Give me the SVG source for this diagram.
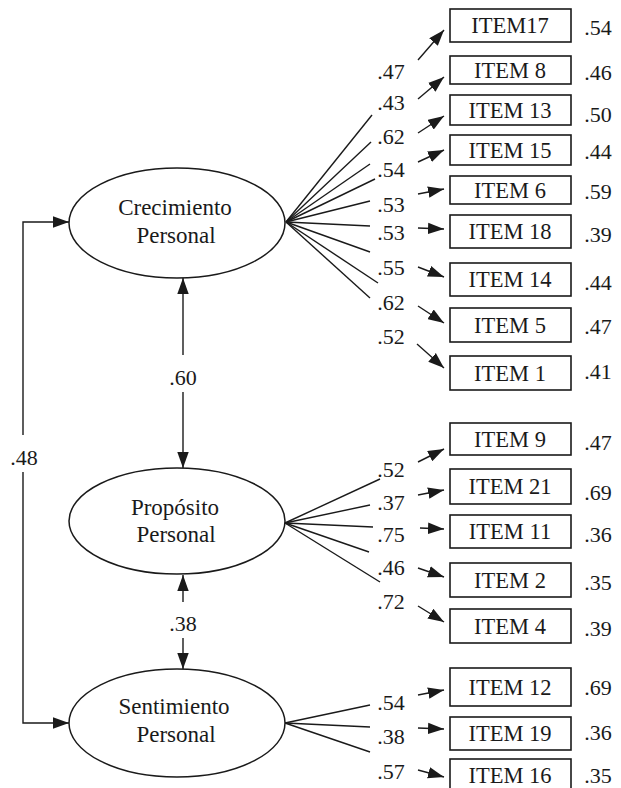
<svg xmlns="http://www.w3.org/2000/svg" width="621" height="788" viewBox="0 0 621 788">
<style>
  .bg { fill: #ffffff; }
  .ell { fill: #ffffff; stroke: #1a1a1a; stroke-width: 1.5; }
  .box { fill: #ffffff; stroke: #1a1a1a; stroke-width: 1.6; }
  .ln { fill: none; stroke: #1a1a1a; stroke-width: 1.4; }
  .t { fill: #1a1a1a; text-anchor: middle; }
  .lat { font-size: 23px; }
  .itm { font-size: 22.5px; }
  .num { font-size: 22px; }
</style>
<defs>
  <marker id="ah" markerUnits="userSpaceOnUse" markerWidth="16" markerHeight="12" viewBox="0 0 14 10" refX="14" refY="5" orient="auto">
    <path d="M0,0 L14,5 L0,10 Z" fill="#1a1a1a"/>
  </marker>
</defs>
<rect class="bg" x="0" y="0" width="621" height="788"/>

<g font-family="Liberation Serif, Tinos, DejaVu Serif, Times New Roman, serif">
<g id="connectors">
  <line class="ln" x1="286" y1="222" x2="372" y2="115"/>
  <line class="ln" x1="286" y1="222" x2="371" y2="142"/>
  <line class="ln" x1="286" y1="222" x2="370" y2="164"/>
  <line class="ln" x1="286" y1="222" x2="375" y2="179"/>
  <line class="ln" x1="286" y1="222" x2="370" y2="201"/>
  <line class="ln" x1="286" y1="222" x2="370" y2="226"/>
  <line class="ln" x1="286" y1="222" x2="370" y2="252"/>
  <line class="ln" x1="286" y1="222" x2="378" y2="283"/>
  <line class="ln" x1="286" y1="222" x2="370" y2="298"/>
  <line class="ln" x1="285" y1="523" x2="380" y2="479"/>
  <line class="ln" x1="285" y1="523" x2="370" y2="505"/>
  <line class="ln" x1="285" y1="523" x2="373" y2="527"/>
  <line class="ln" x1="285" y1="523" x2="369" y2="552"/>
  <line class="ln" x1="285" y1="523" x2="380" y2="582"/>
  <line class="ln" x1="285" y1="723" x2="370" y2="705"/>
  <line class="ln" x1="285" y1="723" x2="370" y2="727"/>
  <line class="ln" x1="285" y1="723" x2="370" y2="752"/>

  <line class="ln" x1="418" y1="60" x2="444" y2="30" marker-end="url(#ah)"/>
  <line class="ln" x1="418" y1="99" x2="444" y2="77" marker-end="url(#ah)"/>
  <line class="ln" x1="418" y1="133" x2="444" y2="116" marker-end="url(#ah)"/>
  <line class="ln" x1="418" y1="162" x2="444" y2="150" marker-end="url(#ah)"/>
  <line class="ln" x1="418" y1="194" x2="444" y2="189" marker-end="url(#ah)"/>
  <line class="ln" x1="418" y1="228" x2="444" y2="229" marker-end="url(#ah)"/>
  <line class="ln" x1="418" y1="267" x2="444" y2="277" marker-end="url(#ah)"/>
  <line class="ln" x1="418" y1="306" x2="444" y2="323" marker-end="url(#ah)"/>
  <line class="ln" x1="417" y1="344" x2="444" y2="368" marker-end="url(#ah)"/>
  <line class="ln" x1="418" y1="462" x2="444" y2="449" marker-end="url(#ah)"/>
  <line class="ln" x1="418" y1="495" x2="444" y2="490" marker-end="url(#ah)"/>
  <line class="ln" x1="420" y1="528" x2="444" y2="529" marker-end="url(#ah)"/>
  <line class="ln" x1="418" y1="568" x2="444" y2="577" marker-end="url(#ah)"/>
  <line class="ln" x1="418" y1="606" x2="444" y2="622" marker-end="url(#ah)"/>
  <line class="ln" x1="418" y1="695" x2="444" y2="690" marker-end="url(#ah)"/>
  <line class="ln" x1="418" y1="728" x2="444" y2="729" marker-end="url(#ah)"/>
  <line class="ln" x1="418" y1="770" x2="444" y2="777" marker-end="url(#ah)"/>

  <line class="ln" x1="183" y1="355" x2="183" y2="278" marker-end="url(#ah)"/>
  <line class="ln" x1="183" y1="392" x2="183" y2="468" marker-end="url(#ah)"/>
  <line class="ln" x1="183" y1="602" x2="183" y2="575" marker-end="url(#ah)"/>
  <line class="ln" x1="183" y1="638" x2="183" y2="669" marker-end="url(#ah)"/>
  <path class="ln" d="M23,435 V222 H69" marker-end="url(#ah)"/>
  <path class="ln" d="M23,472 V723 H69" marker-end="url(#ah)"/>

  <text class="t num" x="183" y="385">.60</text>
  <text class="t num" x="183" y="631">.38</text>
  <text class="t num" x="24" y="465">.48</text>

  <text class="t num" x="391" y="79">.47</text>
  <text class="t num" x="391" y="110">.43</text>
  <text class="t num" x="391" y="144">.62</text>
  <text class="t num" x="391" y="177">.54</text>
  <text class="t num" x="391" y="212">.53</text>
  <text class="t num" x="391" y="240">.53</text>
  <text class="t num" x="391" y="275">.55</text>
  <text class="t num" x="391" y="310">.62</text>
  <text class="t num" x="391" y="344">.52</text>
  <text class="t num" x="391" y="477">.52</text>
  <text class="t num" x="391" y="510">.37</text>
  <text class="t num" x="391" y="542">.75</text>
  <text class="t num" x="391" y="575">.46</text>
  <text class="t num" x="391" y="609">.72</text>
  <text class="t num" x="391" y="710">.54</text>
  <text class="t num" x="391" y="744">.38</text>
  <text class="t num" x="391" y="779">.57</text>
</g>

<g id="factor-crecimiento">
  <ellipse class="ell" cx="177" cy="223" rx="108" ry="55"/>
  <text class="t lat" x="175" y="215">Crecimiento</text>
  <text class="t lat" x="176" y="243">Personal</text>
</g>
<g id="factor-proposito">
  <ellipse class="ell" cx="177" cy="521" rx="108" ry="53"/>
  <text class="t lat" x="175" y="515">Propósito</text>
  <text class="t lat" x="176" y="542">Personal</text>
</g>
<g id="factor-sentimiento">
  <ellipse class="ell" cx="177" cy="723" rx="108" ry="54"/>
  <text class="t lat" x="174" y="714">Sentimiento</text>
  <text class="t lat" x="176" y="742">Personal</text>
</g>

<g id="item17"><rect class="box" x="450" y="9" width="121" height="33"/><text class="t itm" x="510" y="33">ITEM17</text><text class="t num" x="598" y="35">.54</text></g>
<g id="item8"><rect class="box" x="450" y="56" width="121" height="28"/><text class="t itm" x="510" y="78">ITEM 8</text><text class="t num" x="598" y="80">.46</text></g>
<g id="item13"><rect class="box" x="450" y="95" width="121" height="30"/><text class="t itm" x="510" y="118">ITEM 13</text><text class="t num" x="598" y="122">.50</text></g>
<g id="item15"><rect class="box" x="450" y="135" width="121" height="30"/><text class="t itm" x="510" y="158">ITEM 15</text><text class="t num" x="598" y="159">.44</text></g>
<g id="item6"><rect class="box" x="450" y="176" width="121" height="28"/><text class="t itm" x="510" y="198">ITEM 6</text><text class="t num" x="598" y="199">.59</text></g>
<g id="item18"><rect class="box" x="450" y="215" width="121" height="33"/><text class="t itm" x="510" y="239">ITEM 18</text><text class="t num" x="598" y="242">.39</text></g>
<g id="item14"><rect class="box" x="450" y="263" width="121" height="33"/><text class="t itm" x="510" y="287">ITEM 14</text><text class="t num" x="598" y="290">.44</text></g>
<g id="item5"><rect class="box" x="450" y="308" width="121" height="34"/><text class="t itm" x="510" y="333">ITEM 5</text><text class="t num" x="598" y="334">.47</text></g>
<g id="item1"><rect class="box" x="450" y="356" width="121" height="34"/><text class="t itm" x="510" y="381">ITEM 1</text><text class="t num" x="598" y="379">.41</text></g>
<g id="item9"><rect class="box" x="450" y="423" width="121" height="32"/><text class="t itm" x="510" y="447">ITEM 9</text><text class="t num" x="598" y="450">.47</text></g>
<g id="item21"><rect class="box" x="450" y="469" width="121" height="35"/><text class="t itm" x="510" y="494">ITEM 21</text><text class="t num" x="598" y="500">.69</text></g>
<g id="item11"><rect class="box" x="450" y="515" width="121" height="33"/><text class="t itm" x="510" y="539">ITEM 11</text><text class="t num" x="598" y="542">.36</text></g>
<g id="item2"><rect class="box" x="450" y="563" width="121" height="34"/><text class="t itm" x="510" y="588">ITEM 2</text><text class="t num" x="598" y="590">.35</text></g>
<g id="item4"><rect class="box" x="450" y="609" width="121" height="34"/><text class="t itm" x="510" y="634">ITEM 4</text><text class="t num" x="598" y="636">.39</text></g>
<g id="item12"><rect class="box" x="450" y="668" width="121" height="38"/><text class="t itm" x="510" y="695">ITEM 12</text><text class="t num" x="598" y="695">.69</text></g>
<g id="item19"><rect class="box" x="450" y="717" width="121" height="33"/><text class="t itm" x="510" y="741">ITEM 19</text><text class="t num" x="598" y="740">.36</text></g>
<g id="item16"><rect class="box" x="450" y="759" width="121" height="40"/><text class="t itm" x="510" y="783">ITEM 16</text><text class="t num" x="598" y="783">.35</text></g>
</g>
</svg>
